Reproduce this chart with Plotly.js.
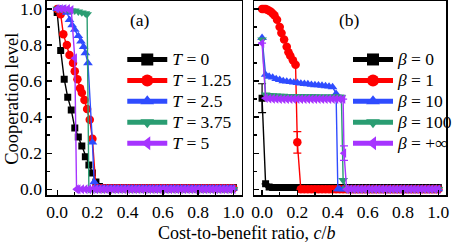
<!DOCTYPE html>
<html>
<head>
<meta charset="utf-8">
<script src="https://cdn.plot.ly/plotly-3.0.1.min.js"></script>
<style>html,body{margin:0;padding:0;background:#fff;}#chart{width:458px;height:242px;}</style>
</head>
<body>
<div id="chart"></div>
<script>
// ---------- Panel (a): payoff parameter T ----------
const aT0_x = [0.00,0.02,0.04,0.06,0.08,0.10,0.12,0.14,0.16,0.18,0.20,0.22,0.24,0.26,0.28,0.30,0.32,0.34,0.36,0.38,0.40,0.42,0.44,0.46,0.48,0.50,0.52,0.54,0.56,0.58,0.60,0.62,0.64,0.66,0.68,0.70,0.72,0.74,0.76,0.78,0.80,0.82,0.84,0.86,0.88,0.90,0.92,0.94,0.96,0.98,1.00];
const aT0_y = [0.98,0.77,0.61,0.51,0.44,0.34,0.29,0.24,0.18,0.135,0.09,0.04,0.015,0.01,0.01,0.01,0.01,0.01,0.01,0.01,0.01,0.01,0.01,0.01,0.01,0.01,0.01,0.01,0.01,0.01,0.01,0.01,0.01,0.01,0.01,0.01,0.01,0.01,0.01,0.01,0.01,0.01,0.01,0.01,0.01,0.01,0.01,0.01,0.01,0.01,0.01];

const aT125_x = [0.00,0.02,0.035,0.055,0.07,0.09,0.10,0.115,0.13,0.14,0.155,0.17,0.185,0.20,0.22,0.24,0.26,0.28,0.30,0.32,0.34,0.36,0.38,0.40,0.42,0.44,0.46,0.48,0.50,0.52,0.54,0.56,0.58,0.60,0.62,0.64,0.66,0.68,0.70,0.72,0.74,0.76,0.78,0.80,0.82,0.84,0.86,0.88,0.90,0.92,0.94,0.96,0.98,1.00];
const aT125_y = [1.00,0.97,0.86,0.80,0.745,0.70,0.655,0.61,0.56,0.535,0.495,0.445,0.385,0.28,0.01,0.005,0.005,0.005,0.005,0.005,0.005,0.005,0.005,0.005,0.005,0.005,0.005,0.005,0.005,0.005,0.005,0.005,0.005,0.005,0.005,0.005,0.005,0.005,0.005,0.005,0.005,0.005,0.005,0.005,0.005,0.005,0.005,0.005,0.005,0.005,0.005,0.005,0.005,0.005];

const aT25_x = [0.00,0.02,0.04,0.055,0.07,0.085,0.10,0.12,0.135,0.15,0.16,0.175,0.20,0.21,0.22,0.24,0.26,0.28,0.30,0.32,0.34,0.36,0.38,0.40,0.42,0.44,0.46,0.48,0.50,0.52,0.54,0.56,0.58,0.60,0.62,0.64,0.66,0.68,0.70,0.72,0.74,0.76,0.78,0.80,0.82,0.84,0.86,0.88,0.90,0.92,0.94,0.96,0.98,1.00];
const aT25_y = [1.00,1.00,1.00,0.98,0.94,0.91,0.885,0.85,0.82,0.79,0.755,0.70,0.26,0.04,0.005,0.005,0.005,0.005,0.005,0.005,0.005,0.005,0.005,0.005,0.005,0.005,0.005,0.005,0.005,0.005,0.005,0.005,0.005,0.005,0.005,0.005,0.005,0.005,0.005,0.005,0.005,0.005,0.005,0.005,0.005,0.005,0.005,0.005,0.005,0.005,0.005,0.005,0.005,0.005];

const aT375_x = [0.00,0.02,0.04,0.06,0.08,0.10,0.12,0.14,0.16,0.17,0.18,0.20,0.22,0.24,0.26,0.28,0.30,0.32,0.34,0.36,0.38,0.40,0.42,0.44,0.46,0.48,0.50,0.52,0.54,0.56,0.58,0.60,0.62,0.64,0.66,0.68,0.70,0.72,0.74,0.76,0.78,0.80,0.82,0.84,0.86,0.88,0.90,0.92,0.94,0.96,0.98,1.00];
const aT375_y = [1.00,1.00,1.00,0.995,0.99,0.99,0.985,0.98,0.975,0.97,0.0,0.0,0.0,0.0,0.0,0.0,0.0,0.0,0.0,0.0,0.0,0.0,0.0,0.0,0.0,0.0,0.0,0.0,0.0,0.0,0.0,0.0,0.0,0.0,0.0,0.0,0.0,0.0,0.0,0.0,0.0,0.0,0.0,0.0,0.0,0.0,0.0,0.0,0.0,0.0,0.0,0.0];

const aT5_x = [0.00,0.02,0.04,0.06,0.08,0.10,0.11,0.12,0.14,0.16,0.18,0.20,0.22,0.24,0.26,0.28,0.30,0.32,0.34,0.36,0.38,0.40,0.42,0.44,0.46,0.48,0.50,0.52,0.54,0.56,0.58,0.60,0.62,0.64,0.66,0.68,0.70,0.72,0.74,0.76,0.78,0.80,0.82,0.84,0.86,0.88,0.90,0.92,0.94,0.96,0.98,1.00];
const aT5_y = [1.00,1.00,1.00,1.00,0.995,0.727,0.0,0.0,0.0,0.0,0.0,0.0,0.0,0.0,0.0,0.0,0.0,0.0,0.0,0.0,0.0,0.0,0.0,0.0,0.0,0.0,0.0,0.0,0.0,0.0,0.0,0.0,0.0,0.0,0.0,0.0,0.0,0.0,0.0,0.0,0.0,0.0,0.0,0.0,0.0,0.0,0.0,0.0,0.0,0.0,0.0,0.0];

// ---------- Panel (b): selection intensity beta ----------
const bB0_x = [0.00,0.02,0.04,0.06,0.08,0.10,0.12,0.14,0.16,0.18,0.20,0.22,0.24,0.26,0.28,0.30,0.32,0.34,0.36,0.38,0.40,0.42,0.44,0.46,0.48,0.50,0.52,0.54,0.56,0.58,0.60,0.62,0.64,0.66,0.68,0.70,0.72,0.74,0.76,0.78,0.80,0.82,0.84,0.86,0.88,0.90,0.92,0.94,0.96,0.98,1.00];
const bB0_y = [0.505,0.03,0.012,0.01,0.01,0.01,0.01,0.01,0.01,0.01,0.01,0.01,0.01,0.01,0.01,0.01,0.01,0.01,0.01,0.01,0.01,0.01,0.01,0.01,0.01,0.01,0.01,0.01,0.01,0.01,0.01,0.01,0.01,0.01,0.01,0.01,0.01,0.01,0.01,0.01,0.01,0.01,0.01,0.01,0.01,0.01,0.01,0.01,0.01,0.01,0.01];

const bB1_x = [0.00,0.01,0.02,0.03,0.04,0.05,0.06,0.07,0.085,0.10,0.11,0.125,0.14,0.15,0.16,0.175,0.19,0.20,0.22,0.24,0.26,0.28,0.30,0.32,0.34,0.36,0.38,0.40,0.42,0.44,0.46,0.48,0.50,0.52,0.54,0.56,0.58,0.60,0.62,0.64,0.66,0.68,0.70,0.72,0.74,0.76,0.78,0.80,0.82,0.84,0.86,0.88,0.90,0.92,0.94,0.96,0.98,1.00];
const bB1_y = [1.00,1.00,1.00,0.995,0.99,0.985,0.975,0.965,0.94,0.90,0.867,0.83,0.79,0.76,0.74,0.715,0.69,0.26,0.0,0.0,0.0,0.0,0.0,0.0,0.0,0.0,0.0,0.0,0.0,0.0,0.0,0.0,0.0,0.0,0.0,0.0,0.0,0.0,0.0,0.0,0.0,0.0,0.0,0.0,0.0,0.0,0.0,0.0,0.0,0.0,0.0,0.0,0.0,0.0,0.0,0.0,0.0,0.0];

const bB10_x = [0.00,0.02,0.04,0.06,0.08,0.10,0.12,0.14,0.16,0.18,0.20,0.22,0.24,0.26,0.28,0.30,0.32,0.34,0.36,0.38,0.40,0.42,0.43,0.44,0.46,0.48,0.50,0.52,0.54,0.56,0.58,0.60,0.62,0.64,0.66,0.68,0.70,0.72,0.74,0.76,0.78,0.80,0.82,0.84,0.86,0.88,0.90,0.92,0.94,0.96,0.98,1.00];
const bB10_y = [0.84,0.635,0.625,0.62,0.612,0.607,0.60,0.598,0.595,0.592,0.59,0.587,0.585,0.583,0.58,0.578,0.577,0.575,0.572,0.57,0.567,0.53,0.0,0.0,0.0,0.0,0.0,0.0,0.0,0.0,0.0,0.0,0.0,0.0,0.0,0.0,0.0,0.0,0.0,0.0,0.0,0.0,0.0,0.0,0.0,0.0,0.0,0.0,0.0,0.0,0.0,0.0];

const bB100_x = [0.00,0.02,0.04,0.06,0.08,0.10,0.12,0.14,0.16,0.18,0.20,0.22,0.24,0.26,0.28,0.30,0.32,0.34,0.36,0.38,0.40,0.42,0.44,0.45,0.46,0.48,0.50,0.52,0.54,0.56,0.58,0.60,0.62,0.64,0.66,0.68,0.70,0.72,0.74,0.76,0.78,0.80,0.82,0.84,0.86,0.88,0.90,0.92,0.94,0.96,0.98,1.00];
const bB100_y = [0.83,0.525,0.522,0.52,0.519,0.518,0.518,0.517,0.517,0.516,0.516,0.516,0.515,0.515,0.515,0.515,0.514,0.514,0.514,0.514,0.513,0.513,0.513,0.51,0.05,0.0,0.0,0.0,0.0,0.0,0.0,0.0,0.0,0.0,0.0,0.0,0.0,0.0,0.0,0.0,0.0,0.0,0.0,0.0,0.0,0.0,0.0,0.0,0.0,0.0,0.0,0.0];

const bBinf_x = [0.00,0.02,0.04,0.06,0.08,0.10,0.12,0.14,0.16,0.18,0.20,0.22,0.24,0.26,0.28,0.30,0.32,0.34,0.36,0.38,0.40,0.42,0.44,0.46,0.465,0.48,0.50,0.52,0.54,0.56,0.58,0.60,0.62,0.64,0.66,0.68,0.70,0.72,0.74,0.76,0.78,0.80,0.82,0.84,0.86,0.88,0.90,0.92,0.94,0.96,0.98,1.00];
const bBinf_y = [0.81,0.505,0.503,0.502,0.501,0.50,0.50,0.50,0.50,0.50,0.50,0.50,0.50,0.50,0.50,0.50,0.50,0.50,0.50,0.50,0.50,0.50,0.50,0.50,0.20,0.0,0.0,0.0,0.0,0.0,0.0,0.0,0.0,0.0,0.0,0.0,0.0,0.0,0.0,0.0,0.0,0.0,0.0,0.0,0.0,0.0,0.0,0.0,0.0,0.0,0.0,0.0];

// error bars (value at given c/b)
const bB0_err = {0.00: 0.08};
const bB1_err = {0.20: 0.06};
const bBinf_err = {0.465: 0.04};

const namesA = ['<i>T</i> = 0', '<i>T</i> = 1.25', '<i>T</i> = 2.5', '<i>T</i> = 3.75', '<i>T</i> = 5'];
const namesB = ['<i>β</i> = 0', '<i>β</i> = 1', '<i>β</i> = 10', '<i>β</i> = 100', '<i>β</i> = +∞'];
const colors = ['#000000', '#ff0000', '#2f4cff', '#2a9d72', '#a634ff'];
const symbols = ['square', 'circle', 'triangle-up', 'triangle-down', 'triangle-left'];
const sizes = [7, 8.5, 8.5, 8.5, 8.5];

const seriesA = [[aT0_x, aT0_y, null], [aT125_x, aT125_y, null], [aT25_x, aT25_y, null], [aT375_x, aT375_y, null], [aT5_x, aT5_y, null]];
const seriesB = [[bB0_x, bB0_y, bB0_err], [bB1_x, bB1_y, bB1_err], [bB10_x, bB10_y, null], [bB100_x, bB100_y, null], [bBinf_x, bBinf_y, bBinf_err]];

const traces = [];
function addPanel(series, names, xa, ya, leg) {
  series.forEach((s, i) => {
    const t = {
      x: s[0], y: s[1], xaxis: xa, yaxis: ya, legend: leg,
      type: 'scatter', mode: 'lines+markers',
      name: '<span style="font-size:17.5px">' + names[i] + '</span>',
      line: {color: colors[i], width: 1.4},
      marker: {symbol: symbols[i], size: sizes[i], color: colors[i], line: {width: 0}}
    };
    if (s[2]) {
      t.error_y = {type: 'data', array: s[0].map(x => s[2][x] || 0), visible: true,
                   color: colors[i], thickness: 1.2, width: 4};
    }
    traces.push(t);
  });
}
addPanel(seriesA, namesA, 'x', 'y', 'legend');
addPanel(seriesB, namesB, 'x2', 'y2', 'legend2');

const W = 458, H = 242;
const serif = '"Liberation Serif", "Times New Roman", serif';
const axBase = {
  showline: true, linecolor: '#000', linewidth: 1.5, mirror: true,
  ticks: 'inside', ticklen: 5, tickwidth: 1.3, tickcolor: '#000',
  minor: {ticks: 'inside', ticklen: 3, tickwidth: 1.3, dtick: 0.1, tickcolor: '#000'},
  tick0: 0, dtick: 0.2, tickformat: '.1f', ticklabeloverflow: 'allow',
  showgrid: false, zeroline: false,
  tickfont: {family: serif, size: 17.5, color: '#000'}
};
const yDom = [1 - 195 / H, 1 - 1 / H];
const legBase = {xanchor: 'left', yanchor: 'top', bgcolor: 'rgba(0,0,0,0)',
  borderwidth: 0, itemsizing: 'constant', itemwidth: 40, tracegroupgap: 0,
  font: {family: serif, size: 13.8, color: '#000'}};
const layout = {
  width: W, height: H,
  margin: {l: 0, r: 0, t: 0, b: 0},
  paper_bgcolor: '#fff', plot_bgcolor: '#fff',
  font: {family: serif, size: 17, color: '#000'},
  showlegend: true,
  xaxis: Object.assign({}, axBase, {domain: [48 / W, 247 / W], range: [-0.058, 1.047], anchor: 'y'}),
  yaxis: Object.assign({}, axBase, {domain: yDom, range: [-0.032, 1.044], anchor: 'x'}),
  xaxis2: Object.assign({}, axBase, {domain: [260 / W, 456 / W], range: [-0.044, 1.044], anchor: 'y2'}),
  yaxis2: Object.assign({}, axBase, {domain: yDom, range: [-0.032, 1.044], anchor: 'x2', showticklabels: false}),
  legend: Object.assign({}, legBase, {x: 125 / W, y: 1 - 44 / H}),
  legend2: Object.assign({}, legBase, {x: 356 / W, y: 1 - 44 / H}),
  annotations: [
    {text: '(a)', x: 143 / W, y: 1 - 20 / H, xref: 'paper', yref: 'paper', showarrow: false,
     xanchor: 'center', yanchor: 'middle', font: {family: serif, size: 17.5}},
    {text: '(b)', x: 357 / W, y: 1 - 20 / H, xref: 'paper', yref: 'paper', showarrow: false,
     xanchor: 'center', yanchor: 'middle', font: {family: serif, size: 17.5}},
    {text: 'Cooperation level', x: 12 / W, y: 1 - 99 / H, xref: 'paper', yref: 'paper', showarrow: false,
     textangle: -90, xanchor: 'center', yanchor: 'middle', font: {family: serif, size: 18.5}},
    {text: 'Cost-to-benefit ratio, <i>c</i>/<i>b</i>', x: 252 / W, y: 1 - 233 / H, xref: 'paper', yref: 'paper',
     showarrow: false, xanchor: 'center', yanchor: 'middle', font: {family: serif, size: 18}}
  ]
};
Plotly.newPlot('chart', traces, layout, {staticPlot: true, displayModeBar: false});
</script>
</body>
</html>
